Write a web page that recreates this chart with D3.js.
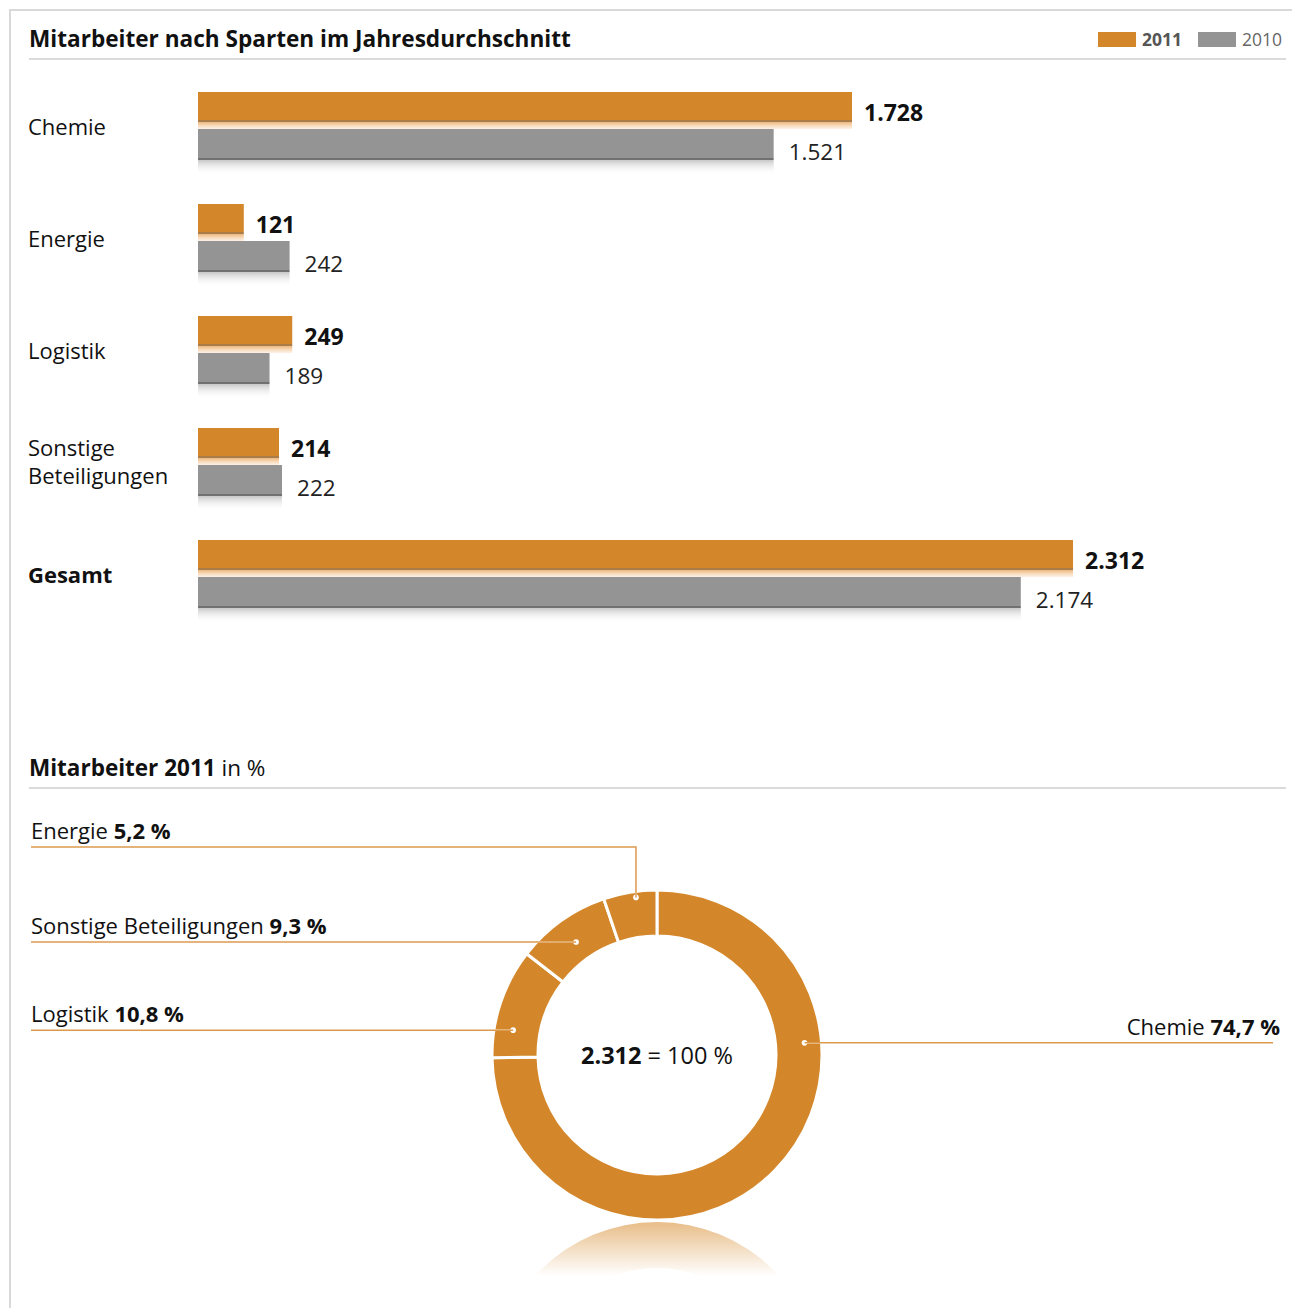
<!DOCTYPE html>
<html lang="de">
<head>
<meta charset="UTF-8">
<script src="https://cdn.jsdelivr.net/npm/d3@7"></script>
<title>Mitarbeiter nach Sparten</title>
<style>
    body { margin: 0; background: white; }
    svg { display: block; font-family: "Open Sans", sans-serif; }
</style>
</head>
<body>
<div id="chart"></div>
<script>
    // data
    const categories = ["Chemie", "Energie", "Logistik", "Sonstige Beteiligungen", "Gesamt"];
    const values2011 = [1728, 121, 249, 214, 2312];
    const values2010 = [1521, 242, 189, 222, 2174];
    const years = ["2011", "2010"];

    // donut: 2011 shares, clockwise from 12 o'clock
    const pieNames = ["Chemie", "Logistik", "Sonstige Beteiligungen", "Energie"];
    const pieValues = [1728, 249, 214, 121];
    const pieTotal = 2312;

    const orange = "#d4872a";
    const grey = "#949494";
    const fmt = d3.formatLocale({decimal: ",", thousands: ".", grouping: [3], currency: ["", "€"]});
    const num = fmt.format(",d");
    const pct = fmt.format(".1f");

    const W = 1292, H = 1308;
    const svg = d3.select("#chart").append("svg")
        .attr("width", W).attr("height", H);

    const defs = svg.append("defs");
    function vGrad(id, stops) {
        const g = defs.append("linearGradient").attr("id", id)
            .attr("x1", 0).attr("y1", 0).attr("x2", 0).attr("y2", 1);
        stops.forEach(s => g.append("stop").attr("offset", s[0]).attr("stop-color", s[1]).attr("stop-opacity", s[2]));
    }
    vGrad("reflOrange", [[0, "#eeb77a", 1], [1, "#fbe9d6", 0.6]]);
    vGrad("reflGrey", [[0, "#c8c8c8", 1], [1, "#ffffff", 0]]);

    // frame
    svg.append("path")
        .attr("d", `M10,${H} V10 H${W}`)
        .attr("fill", "none").attr("stroke", "#d9d9d9").attr("stroke-width", 2);

    // ---------- bar chart ----------
    svg.append("text").attr("x", 29).attr("y", 47)
        .attr("font-size", 22.6).attr("font-weight", "bold").attr("fill", "#111")
        .text("Mitarbeiter nach Sparten im Jahresdurchschnitt");
    svg.append("line").attr("x1", 29).attr("x2", 1286).attr("y1", 59).attr("y2", 59)
        .attr("stroke", "#cfcfcf").attr("stroke-width", 1.5);

    // legend
    const legend = svg.append("g");
    [[1098, orange, "bold", "#555"], [1198, grey, "normal", "#666"]].forEach((l, i) => {
        legend.append("rect").attr("x", l[0]).attr("y", 32).attr("width", 38).attr("height", 15).attr("fill", l[1]);
        legend.append("text").attr("x", l[0] + 44).attr("y", 46)
            .attr("font-size", 17.5).attr("font-weight", l[2]).attr("fill", l[3]).text(years[i]);
    });

    const x = d3.scaleLinear().domain([0, 1728]).range([198, 852]);
    const y = d3.scaleBand().domain(categories).range([92, 92 + 112 * categories.length]);

    const rows = svg.selectAll(".row").data(categories).enter().append("g")
        .attr("class", "row")
        .attr("transform", d => `translate(0,${y(d)})`);

    // category labels
    rows.each(function (d, i) {
        const g = d3.select(this);
        const last = i === categories.length - 1;
        const words = d === "Sonstige Beteiligungen" ? ["Sonstige", "Beteiligungen"] : [d];
        words.forEach((w, j) => {
            g.append("text").attr("x", 28)
                .attr("y", words.length > 1 ? 28 + j * 28 : 43)
                .attr("font-size", 22).attr("fill", "#111")
                .attr("font-weight", last ? "bold" : "normal")
                .text(w);
        });
    });

    // 2011 bars
    rows.append("rect").attr("x", x(0)).attr("y", 0)
        .attr("width", (d, i) => x(values2011[i]) - x(0)).attr("height", 28).attr("fill", orange);
    rows.append("rect").attr("x", x(0)).attr("y", 28)
        .attr("width", (d, i) => x(values2011[i]) - x(0)).attr("height", 2).attr("fill", "#a97c49");
    rows.append("rect").attr("x", x(0)).attr("y", 30)
        .attr("width", (d, i) => x(values2011[i]) - x(0)).attr("height", 7).attr("fill", "url(#reflOrange)");
    rows.append("text")
        .attr("x", (d, i) => x(values2011[i]) + 12).attr("y", 29)
        .attr("font-size", 23).attr("font-weight", "bold").attr("fill", "#111")
        .text((d, i) => num(values2011[i]));

    // 2010 bars
    rows.append("rect").attr("x", x(0)).attr("y", 37)
        .attr("width", (d, i) => x(values2010[i]) - x(0)).attr("height", 29).attr("fill", grey);
    rows.append("rect").attr("x", x(0)).attr("y", 66)
        .attr("width", (d, i) => x(values2010[i]) - x(0)).attr("height", 2).attr("fill", "#717171");
    rows.append("rect").attr("x", x(0)).attr("y", 68)
        .attr("width", (d, i) => x(values2010[i]) - x(0)).attr("height", 15).attr("fill", "url(#reflGrey)");
    rows.append("text")
        .attr("x", (d, i) => x(values2010[i]) + 15).attr("y", 68)
        .attr("font-size", 22.5).attr("fill", "#222")
        .text((d, i) => num(values2010[i]));

    // ---------- donut ----------
    const t2 = svg.append("text").attr("x", 29).attr("y", 776).attr("font-size", 22.5).attr("fill", "#111");
    t2.append("tspan").attr("font-weight", "bold").text("Mitarbeiter 2011");
    t2.append("tspan").text(" in %");
    svg.append("line").attr("x1", 29).attr("x2", 1286).attr("y1", 788).attr("y2", 788)
        .attr("stroke", "#cfcfcf").attr("stroke-width", 1.5);

    const cx = 657, cy = 1055, R = 165, r = 119;
    const pie = d3.pie().sort(null).value(d => d)(pieValues);
    const arc = d3.arc().innerRadius(r).outerRadius(R);

    // reflection below the ring
    const rg = defs.append("linearGradient").attr("id", "reflDonut")
        .attr("gradientUnits", "userSpaceOnUse")
        .attr("x1", 0).attr("y1", -R).attr("x2", 0).attr("y2", -R + 54);
    rg.append("stop").attr("offset", 0).attr("stop-color", "#e8bd88");
    rg.append("stop").attr("offset", 1).attr("stop-color", "#ffffff");
    defs.append("clipPath").attr("id", "reflClip")
        .append("rect").attr("x", cx - R).attr("y", cy + R + 1).attr("width", 2 * R).attr("height", 55);
    svg.append("g").attr("clip-path", "url(#reflClip)")
        .append("path")
        .attr("d", d3.arc().innerRadius(r).outerRadius(R).startAngle(0).endAngle(2 * Math.PI)())
        .attr("transform", `translate(${cx},${cy + 2 * R + 2})`)
        .attr("fill", "url(#reflDonut)");

    // leader lines: dot angle (deg, clockwise from top), dot radius, side
    const leaders = {
        "Energie": {a: -7.6, r: 159, side: "left", ly: 847, elbow: true},
        "Sonstige Beteiligungen": {a: -35.6, r: 139, side: "left"},
        "Logistik": {a: -80.2, r: 146, side: "left"},
        "Chemie": {a: 85.3, r: 148, side: "right"}
    };
    const lineCol = "#dc9a4f";

    const donut = svg.append("g").attr("transform", `translate(${cx},${cy})`);
    const labels = svg.append("g");

    pie.forEach((p, i) => {
        const name = pieNames[i];
        const L = leaders[name];
        const a = L.a * Math.PI / 180;
        const dx = L.r * Math.sin(a), dy = -L.r * Math.cos(a);
        const px = cx + dx, py = cy + dy;
        const ly = L.elbow ? L.ly : py;
        const x2 = L.side === "left" ? 31 : 1273;
        const pts = L.elbow ? [[px, py], [px, ly], [x2, ly]] : [[px, py], [x2, py]];
        labels.append("path").attr("d", d3.line()(pts))
            .attr("fill", "none").attr("stroke", lineCol).attr("stroke-width", 1.5);
        const tx = L.side === "left" ? 31 : 1280;
        const t = labels.append("text").attr("x", tx).attr("y", ly - 8)
            .attr("font-size", 22).attr("fill", "#111")
            .attr("text-anchor", L.side === "left" ? "start" : "end");
        t.append("tspan").text(name + " ");
        t.append("tspan").attr("font-weight", "bold").text(pct(p.value / pieTotal * 100) + " %");
        p.dot = [dx, dy, L.elbow];
    });

    donut.selectAll("path.slice").data(pie).enter().append("path")
        .attr("class", "slice")
        .attr("d", arc)
        .attr("fill", orange)
        .attr("stroke", "white").attr("stroke-width", 3).attr("stroke-linejoin", "bevel");

    // white part of leaders inside the ring
    pie.forEach(p => {
        const [dx, dy, elbow] = p.dot;
        let ex, ey;
        if (elbow) { ex = dx; ey = -Math.sqrt(R * R - dx * dx); }
        else { ey = dy; ex = Math.sign(dx) * Math.sqrt(R * R - dy * dy); }
        donut.append("line").attr("x1", dx).attr("y1", dy).attr("x2", ex).attr("y2", ey)
            .attr("stroke", "white").attr("stroke-width", 1.5);
        donut.append("circle").attr("cx", dx).attr("cy", dy).attr("r", 2.8).attr("fill", "white");
    });

    // centre text
    const ct = svg.append("text").attr("x", cx).attr("y", cy + 9)
        .attr("text-anchor", "middle").attr("font-size", 23.5).attr("fill", "#111");
    ct.append("tspan").attr("font-weight", "bold").text(num(pieTotal));
    ct.append("tspan").text(" = 100 %");
</script>
</body>
</html>
